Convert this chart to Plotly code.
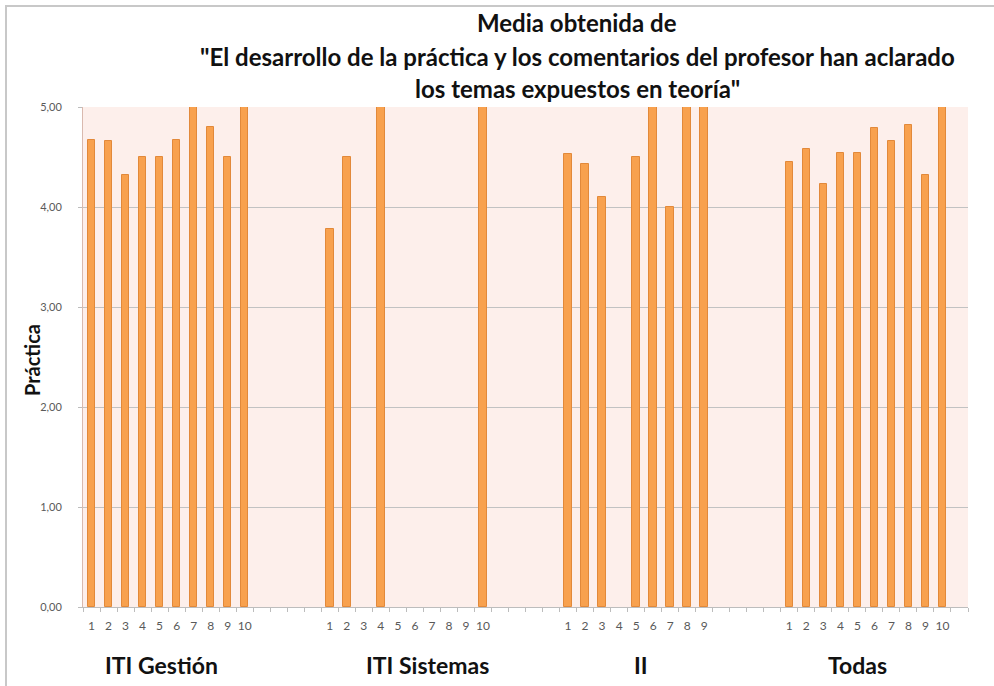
import plotly.graph_objects as go

# ---- data ----
group_names = ["ITI Gestión", "ITI Sistemas", "II", "Todas"]
cats_gestion = ["1", "2", "3", "4", "5", "6", "7", "8", "9", "10"]
cats_sistemas = ["1", "2", "3", "4", "5", "6", "7", "8", "9", "10"]
cats_ii = ["1", "2", "3", "4", "5", "6", "7", "8", "9"]
cats_todas = ["1", "2", "3", "4", "5", "6", "7", "8", "9", "10"]

vals_gestion = [4.67, 4.66, 4.32, 4.50, 4.50, 4.67, 5.00, 4.80, 4.50, 5.00]
vals_sistemas = [3.78, 4.50, None, 5.00, None, None, None, None, None, 5.00]
vals_ii = [4.53, 4.43, 4.10, None, 4.50, 5.00, 4.00, 5.00, 5.00]
vals_todas = [4.45, 4.58, 4.23, 4.54, 4.54, 4.79, 4.66, 4.82, 4.32, 5.00]

y_ticks = [0, 1, 2, 3, 4, 5]

title_lines = [
    "Media obtenida de",
    "\"El desarrollo de la práctica y los comentarios del profesor han aclarado",
    "los temas expuestos en teoría\"",
]
y_title = "Práctica"

# ---- layout constants ----
GAP = 4
W, H = 994, 686
ML, MR, MT, MB = 83, 26, 107, 79
PW, PH = W - ML - MR, H - MT - MB

all_cats = [cats_gestion, cats_sistemas, cats_ii, cats_todas]
all_vals = [vals_gestion, vals_sistemas, vals_ii, vals_todas]

xs, ys, tickvals, ticktext = [], [], [], []
pos = 0
for cats, vals in zip(all_cats, all_vals):
    for c, v in zip(cats, vals):
        xs.append(pos)
        ys.append(v)
        tickvals.append(pos)
        ticktext.append(c)
        pos += 1
    pos += GAP
n_slots = pos - GAP + 1  # one trailing empty slot

fig = go.Figure()
fig.add_trace(go.Bar(
    x=xs, y=ys, width=0.44,
    marker=dict(color="#F8A14E", line=dict(color="#E2893A", width=1)),
    hoverinfo="x+y",
))

fig.update_layout(
    width=W, height=H,
    margin=dict(l=ML, r=MR, t=MT, b=MB, pad=0),
    paper_bgcolor="white",
    plot_bgcolor="#FDEFEB",
    showlegend=False,
    separators=",.",
    font=dict(family="Lato, 'Open Sans', sans-serif"),
    bargap=0,
)

fig.update_xaxes(
    range=[-0.5, n_slots - 0.5],
    tickmode="array", tickvals=tickvals, ticktext=ticktext,
    ticks="", tickfont=dict(size=12, color="#595959"),
    ticklabelstandoff=8,
    showgrid=False, zeroline=False,
    showline=True, linecolor="#BDBDBD", linewidth=1,
    minor=dict(tickmode="array", tickvals=[i - 0.5 for i in range(n_slots + 1)],
               ticks="outside", ticklen=4, tickcolor="#BDBDBD", showgrid=False),
    fixedrange=True,
)
fig.update_yaxes(
    range=[0, 5], tickmode="array", tickvals=y_ticks,
    tickformat=".2f", tickfont=dict(size=11, color="#595959"),
    ticks="outside", ticklen=4, tickcolor="#BDBDBD",
    ticklabelstandoff=14,
    showgrid=True, gridcolor="#C2C2C2", gridwidth=1,
    zeroline=False, showline=True, linecolor="#D9B9AE", linewidth=1,
    fixedrange=True,
)

def px_to_paper_x(px):
    return (px - ML) / PW

def py_to_paper_y(py):
    return (H - MB - py) / PH

# title lines
for line, py in zip(title_lines, [22, 57, 89]):
    fig.add_annotation(
        text=f"<b>{line}</b>", x=px_to_paper_x(577), y=py_to_paper_y(py),
        xref="paper", yref="paper", xanchor="center", yanchor="middle",
        showarrow=False, font=dict(size=24, color="#111111"),
    )

# y axis title
fig.add_annotation(
    text=f"<b>{y_title}</b>", x=px_to_paper_x(32), y=py_to_paper_y(360),
    xref="paper", yref="paper", xanchor="center", yanchor="middle",
    textangle=-90, showarrow=False, font=dict(size=20, color="#111111"),
)

# group labels
group_label_px = [161, 427, 641, 857]
for name, gx in zip(group_names, group_label_px):
    fig.add_annotation(
        text=f"<b>{name}</b>", x=px_to_paper_x(gx), y=py_to_paper_y(665),
        xref="paper", yref="paper", xanchor="center", yanchor="middle",
        showarrow=False, font=dict(size=23, color="#111111"),
    )

# outer frame (gray border of the original picture)
fig.add_shape(type="line", xref="paper", yref="paper",
              x0=px_to_paper_x(5), x1=px_to_paper_x(W + 5),
              y0=py_to_paper_y(6), y1=py_to_paper_y(6),
              line=dict(color="#C8C8C8", width=2))
fig.add_shape(type="line", xref="paper", yref="paper",
              x0=px_to_paper_x(6), x1=px_to_paper_x(6),
              y0=py_to_paper_y(5), y1=py_to_paper_y(H + 5),
              line=dict(color="#C8C8C8", width=2))

fig.write_html("out.html", config={"displayModeBar": False},
               post_script="document.body.style.margin='0';")
